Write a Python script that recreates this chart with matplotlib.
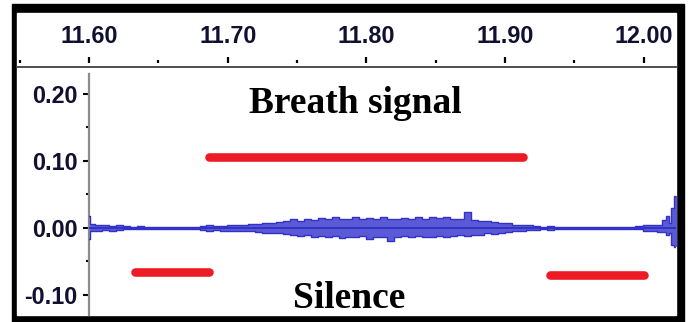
import matplotlib.pyplot as plt
from matplotlib.patches import Rectangle

# waveform envelope (seconds, peak above / below zero)
times = [11.600, 11.602, 11.607, 11.612, 11.617, 11.622, 11.627, 11.632, 11.637, 11.642,
         11.660, 11.677, 11.682, 11.687, 11.692, 11.697, 11.702, 11.707, 11.712, 11.717,
         11.722, 11.727, 11.732, 11.737, 11.742, 11.747, 11.752, 11.757, 11.762, 11.767,
         11.772, 11.777, 11.782, 11.787, 11.792, 11.797, 11.802, 11.807, 11.812, 11.817,
         11.822, 11.827, 11.832, 11.837, 11.842, 11.847, 11.852, 11.857, 11.862, 11.867,
         11.872, 11.877, 11.882, 11.887, 11.892, 11.897, 11.902, 11.907, 11.912, 11.917,
         11.922, 11.927, 11.932, 11.937, 11.960, 11.990, 11.996, 12.001, 12.006, 12.011,
         12.014, 12.016, 12.018, 12.020, 12.022, 12.024]
peak_up = [0.018, 0.006, 0.004, 0.005, 0.003, 0.004, 0.003, 0.002, 0.003, 0.001,
           0.001, 0.001, 0.003, 0.004, 0.003, 0.003, 0.004, 0.004, 0.005, 0.006,
           0.006, 0.008, 0.007, 0.009, 0.010, 0.013, 0.011, 0.014, 0.012, 0.015,
           0.013, 0.016, 0.014, 0.013, 0.016, 0.014, 0.015, 0.013, 0.016, 0.014,
           0.013, 0.015, 0.013, 0.016, 0.014, 0.017, 0.015, 0.016, 0.014, 0.014,
           0.024, 0.012, 0.011, 0.010, 0.009, 0.007, 0.008, 0.005, 0.004, 0.004,
           0.003, 0.002, 0.003, 0.001, 0.001, 0.001, 0.003, 0.004, 0.005, 0.004,
           0.012, 0.018, 0.008, 0.030, 0.048, 0.050]
peak_down = [0.016, 0.005, 0.004, 0.003, 0.004, 0.003, 0.002, 0.002, 0.002, 0.001,
             0.001, 0.001, 0.003, 0.004, 0.003, 0.004, 0.004, 0.005, 0.004, 0.005,
             0.006, 0.007, 0.008, 0.008, 0.009, 0.010, 0.012, 0.011, 0.013, 0.012,
             0.014, 0.012, 0.015, 0.013, 0.014, 0.012, 0.016, 0.013, 0.014, 0.020,
             0.013, 0.012, 0.014, 0.012, 0.013, 0.014, 0.012, 0.013, 0.012, 0.011,
             0.012, 0.010, 0.010, 0.008, 0.009, 0.007, 0.006, 0.005, 0.004, 0.003,
             0.003, 0.002, 0.003, 0.001, 0.001, 0.001, 0.002, 0.004, 0.004, 0.006,
             0.006, 0.010, 0.008, 0.025, 0.028, 0.030]

# red marker bars: (start, end, level)
breath_bar = (11.686, 11.912, 0.106)
silence_bars = [(11.633, 11.686, -0.066), (11.932, 11.999, -0.070)]

ruler_major = [11.60, 11.70, 11.80, 11.90, 12.00]
ruler_minor = [11.55, 11.65, 11.75, 11.85, 11.95]
ruler_labels = ["11.60", "11.70", "11.80", "11.90", "12.00"]
y_major = [0.20, 0.10, 0.00, -0.10]
y_minor = [0.15, 0.05, -0.05]
y_labels = ["0.20", "0.10", "0.00", "-0.10"]

W, H = 691, 322
fig = plt.figure(figsize=(W / 100, H / 100), dpi=100)
txt = "#101030"
tick_font = dict(family="Liberation Sans", weight="bold", size=16.8, color=txt)

# black frame with white inside
fig.patches.append(Rectangle((12 / W, 0), 672 / W, (H - 4) / H, transform=fig.transFigure,
                             color="black", zorder=0))
fig.patches.append(Rectangle((17 / W, 7 / H), 659 / W, (H - 20) / H, transform=fig.transFigure,
                             color="white", zorder=0.5))

# time ruler at the top
ruler = fig.add_axes([17 / W, (H - 67) / H, 659 / W, 54 / H])
ruler.set_zorder(2)
ruler.set_xlim(11.548, 12.0233)
ruler.set_ylim(0, 1)
ruler.set_xticks([])
ruler.set_yticks([])
for s in ["top", "left", "right"]:
    ruler.spines[s].set_visible(False)
ruler.spines["bottom"].set_color("#404040")
ruler.spines["bottom"].set_linewidth(1.3)
ruler.vlines(ruler_major, 0.074, 0.185, color="black", lw=1.6)
ruler.vlines(ruler_minor, 0.074, 0.13, color="black", lw=1.6)
for v, lab in zip(ruler_major, ruler_labels):
    ruler.text(v, 0.57, lab, ha="center", va="center", **tick_font)

# waveform panel
ax = fig.add_axes([89 / W, 7 / H, 587 / W, 247 / H])
ax.set_zorder(3)
ax.set_xlim(11.60, 12.0223)
ax.set_ylim(-0.1299, 0.2388)
ax.patch.set_alpha(0)
for s in ["top", "right", "bottom"]:
    ax.spines[s].set_visible(False)
ax.spines["left"].set_color("#8c8c8c")
ax.spines["left"].set_linewidth(1.6)
ax.spines["left"].set_bounds(-0.1299, 0.2300)
ax.set_xticks([])
ax.set_yticks(y_major)
ax.set_yticklabels(y_labels, fontdict=tick_font)
ax.set_yticks(y_minor, minor=True)
ax.tick_params(axis="y", which="major", direction="out", length=4.3, width=1.5,
               pad=4, color="black")
ax.tick_params(axis="y", which="minor", direction="out", length=2.5, width=1.5, color="black")

neg = [-v for v in peak_down]
ax.fill_between(times, neg, peak_up, step="mid", color="#5a5ad6", lw=0, zorder=2)
ax.step(times, peak_up, where="mid", color="#3232c8", lw=1, zorder=3)
ax.step(times, neg, where="mid", color="#3232c8", lw=1, zorder=3)
ax.axhline(0, color="#3232c8", lw=1.4, zorder=3)

red = "#ed1c24"
ax.plot(breath_bar[:2], [breath_bar[2]] * 2, color=red, lw=6.2, solid_capstyle="round", zorder=4)
for x0, x1, lvl in silence_bars:
    ax.plot([x0, x1], [lvl, lvl], color=red, lw=6.2, solid_capstyle="round", zorder=4)

serif = dict(family="Liberation Serif", weight="bold", size=27, color="black")
ax.text(11.7914, 0.1716, "Breath signal", ha="center", va="baseline", **serif)
ax.text(11.787, -0.119, "Silence", ha="center", va="baseline", **serif)

fig.savefig("out.png", dpi=100)
